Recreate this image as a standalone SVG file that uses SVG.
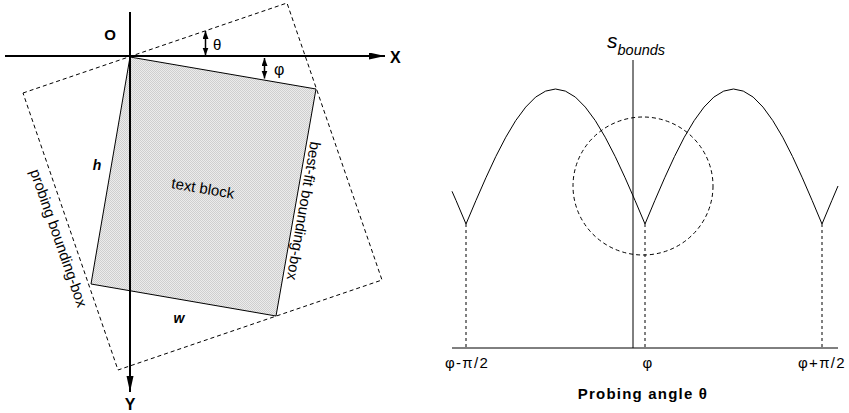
<svg xmlns="http://www.w3.org/2000/svg" width="849" height="413" viewBox="0 0 849 413">
<style>
  text { font-family: "Liberation Sans", Arial, sans-serif; fill: #000; }
  .axis { stroke: #000; stroke-width: 2; fill: none; }
  .thin { stroke: #000; stroke-width: 1; fill: none; }
  .dash { stroke: #000; stroke-width: 1; fill: none; stroke-dasharray: 4 3; }
  .dash2 { stroke: #000; stroke-width: 1; fill: none; stroke-dasharray: 3 3; }
  .lbl { font-size: 15px; }
  .bold { font-weight: bold; }
  .bi { font-weight: bold; font-style: italic; font-size: 14px; }
  .ax { font-size: 15px; letter-spacing: 1.3px; text-anchor: middle; }
</style>
<defs>
  <pattern id="stip" width="2" height="2" patternUnits="userSpaceOnUse">
    <rect width="2" height="2" fill="#ececec"/>
    <rect width="1" height="1" fill="#cfcfcf"/>
    <rect x="1" y="1" width="1" height="1" fill="#cfcfcf"/>
  </pattern>
  <marker id="big" markerUnits="userSpaceOnUse" markerWidth="16" markerHeight="8" refX="16" refY="3.5" orient="auto">
    <path d="M0,0 L16,3.5 L0,7 Z" fill="#000"/>
  </marker>
  <marker id="small" markerUnits="userSpaceOnUse" markerWidth="8" markerHeight="7" refX="8" refY="3" orient="auto-start-reverse">
    <path d="M0,0 L8,3 L0,6 Z" fill="#000"/>
  </marker>
</defs>

<g id="text-block">
  <polygon points="130,57 316,89 276,316 91,284" fill="url(#stip)" stroke="#000" stroke-width="1"/>
  <text class="lbl" x="203" y="188" text-anchor="middle" dominant-baseline="central" transform="rotate(9.8 203 188)">text block</text>
</g>

<g id="probing-box">
  <polygon class="dash" points="23,93 287,3 382,280 118,370"/>
  <text class="lbl" x="59" y="238" text-anchor="middle" dominant-baseline="central" transform="rotate(70.7 59 238)">probing bounding-box</text>
</g>

<g id="best-fit-label">
  <text class="lbl" x="304" y="211" text-anchor="middle" dominant-baseline="central" transform="rotate(99.8 304 211)">best-fit bounding-box</text>
</g>

<g id="connectors">
  <line class="axis" x1="5" y1="56" x2="385" y2="56" marker-end="url(#big)"/>
  <line class="axis" x1="130" y1="12" x2="130" y2="392" marker-end="url(#big)"/>
  <line stroke="#000" stroke-width="1.5" x1="205.5" y1="31" x2="205.5" y2="55.5" marker-start="url(#small)" marker-end="url(#small)"/>
  <line stroke="#000" stroke-width="1.5" x1="264.5" y1="58" x2="264.5" y2="78.5" marker-start="url(#small)" marker-end="url(#small)"/>
</g>

<g id="axis-labels">
  <text class="bold" x="110" y="40" font-size="15" text-anchor="middle">O</text>
  <text class="bold" x="390" y="63" font-size="16">X</text>
  <text class="bold" x="130" y="410" font-size="16" text-anchor="middle">Y</text>
  <text x="213" y="50" font-size="15">θ</text>
  <text x="274" y="75" font-size="16">φ</text>
  <text class="bi" x="97" y="170" text-anchor="middle">h</text>
  <text class="bi" x="179" y="323" text-anchor="middle">w</text>
</g>

<g id="plot">
  <line class="thin" x1="452" y1="348" x2="838" y2="348"/>
  <line class="thin" x1="633" y1="60" x2="633" y2="348"/>
  <line class="dash2" x1="466" y1="224" x2="466" y2="348"/>
  <line class="dash2" x1="645" y1="224" x2="645" y2="348"/>
  <line class="dash2" x1="822" y1="224" x2="822" y2="348"/>
  <ellipse class="dash" cx="643" cy="186" rx="70" ry="69"/>
  <path class="thin" stroke-linejoin="round" d="M452,191.3 L456.1,200.6 L466,224 L475.9,200.6 L485.9,177.8 L495.8,156.5 L505.8,137.2 L515.7,120.6 L525.7,107.1 L535.6,97.1 L545.6,91.1 L555.5,89 L565.4,91.1 L575.4,97.1 L585.3,107.1 L595.3,120.6 L605.2,137.2 L615.2,156.5 L625.1,177.8 L635.1,200.6 L645,224 L654.8,200.6 L664.7,177.8 L674.5,156.5 L684.3,137.2 L694.2,120.6 L704,107.1 L713.8,97.1 L723.7,91.1 L733.5,89 L743.3,91.1 L753.2,97.1 L763,107.1 L772.8,120.6 L782.7,137.2 L792.5,156.5 L802.3,177.8 L812.2,200.6 L822,224 L831.8,200.6 L838,186"/>
</g>

<g id="plot-labels">
  <text x="607" y="48" font-size="21" font-style="italic">s<tspan font-size="14.5" dy="7">bounds</tspan></text>
  <text class="ax" x="467" y="368">φ-π/2</text>
  <text class="ax" x="648" y="368">φ</text>
  <text class="ax" x="822" y="368">φ+π/2</text>
  <text x="643" y="399" font-size="15" font-weight="bold" letter-spacing="1.2" text-anchor="middle">Probing angle θ</text>
</g>
</svg>
